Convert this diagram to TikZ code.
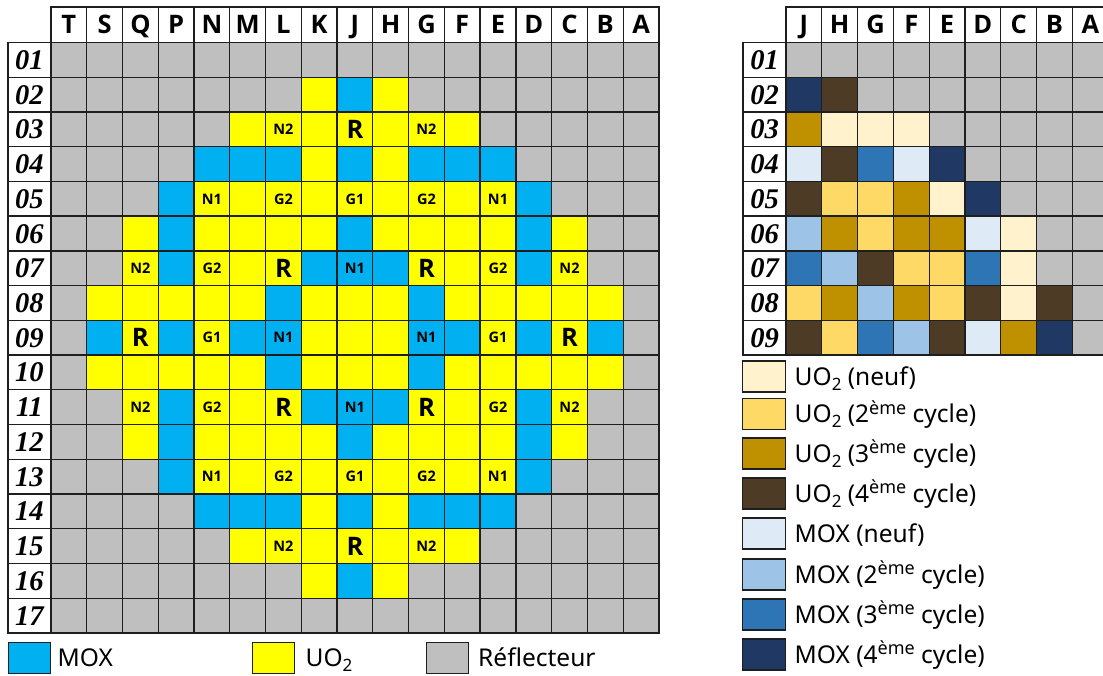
\documentclass[tikz,border=0pt]{standalone}
\usepackage{fontspec}
\setmainfont{Noto Sans}
\newfontfamily\rowfont{Liberation Serif}
\newfontfamily\headfont{Open Sans}
\definecolor{colg}{HTML}{BFBFBF}
\definecolor{coly}{HTML}{FFFF00}
\definecolor{colb}{HTML}{00B0F0}
\definecolor{cola}{HTML}{FFF2CC}
\definecolor{colc}{HTML}{FFD966}
\definecolor{cold}{HTML}{BF9000}
\definecolor{cole}{HTML}{4E3B25}
\definecolor{colm}{HTML}{DEEAF6}
\definecolor{coln}{HTML}{9DC3E6}
\definecolor{colo}{HTML}{2E75B6}
\definecolor{colp}{HTML}{1F3864}
\definecolor{gridc}{HTML}{1E1E1E}
\tikzset{
  cell/.style={draw=gridc,line width=1.3pt,minimum width=35.76pt,minimum height=34.75pt,inner sep=0pt,outer sep=0pt},
  headcell/.style={cell,fill=white,minimum height=35.5pt,font=\fontsize{25.5}{26}\headfont\bfseries,text height=18.5pt,text depth=0pt},
  rowcell/.style={cell,fill=white,minimum width=43pt,font=\fontsize{28.5}{29}\rowfont\bfseries\itshape,text height=19pt,text depth=0pt},
  smalllab/.style={inner sep=0pt,font=\fontsize{14.5}{15}\headfont\bfseries,text height=10.5pt,text depth=0pt},
  biglab/.style={inner sep=0pt,font=\fontsize{25.5}{26}\headfont\bfseries,text height=18.5pt,text depth=0pt},
  legbox/.style={draw=gridc,line width=1.3pt,minimum width=42.5pt,minimum height=31pt,inner sep=0pt,outer sep=0pt},
  legtxt/.style={inner sep=0pt,anchor=base west,font=\fontsize{24.5}{25}\selectfont}
}
\newcommand{\sbs}[1]{\smash{\raisebox{-5pt}{\fontsize{17}{17}\selectfont #1}}}
\newcommand{\sps}[1]{\raisebox{8.5pt}{\fontsize{18}{18}\selectfont #1}}
\begin{document}
\begin{tikzpicture}[x=1pt,y=-1pt]
\clip (0,0) rectangle (1103,675);
% left header
\foreach \t [count=\i] in {T,S,Q,P,N,M,L,K,J,H,G,F,E,D,C,B,A}
  \node[headcell,minimum width=35.76pt] (lh\i) at ({51+35.76*(\i-0.5)},24.7) {\t};
% left row labels
\foreach \t [count=\r] in {01,02,03,04,05,06,07,08,09,10,11,12,13,14,15,16,17}
  \node[rowcell] (lr\r) at (29.5,{42.5+34.73*(\r-0.5)}) {\t};
% left cells
\foreach \rw [count=\r] in {
 {g,g,g,g,g,g,g,g,g,g,g,g,g,g,g,g,g},
 {g,g,g,g,g,g,g,y,b,y,g,g,g,g,g,g,g},
 {g,g,g,g,g,y,y,y,y,y,y,y,g,g,g,g,g},
 {g,g,g,g,b,b,b,y,b,y,b,b,b,g,g,g,g},
 {g,g,g,b,y,y,y,y,y,y,y,y,y,b,g,g,g},
 {g,g,y,b,y,y,y,y,b,y,y,y,y,b,y,g,g},
 {g,g,y,b,y,y,y,b,b,b,y,y,y,b,y,g,g},
 {g,y,y,y,y,y,b,y,y,y,b,y,y,y,y,y,g},
 {g,b,y,b,y,b,b,y,y,y,b,b,y,b,y,b,g},
 {g,y,y,y,y,y,b,y,y,y,b,y,y,y,y,y,g},
 {g,g,y,b,y,y,y,b,b,b,y,y,y,b,y,g,g},
 {g,g,y,b,y,y,y,y,b,y,y,y,y,b,y,g,g},
 {g,g,g,b,y,y,y,y,y,y,y,y,y,b,g,g,g},
 {g,g,g,g,b,b,b,y,b,y,b,b,b,g,g,g,g},
 {g,g,g,g,g,y,y,y,y,y,y,y,g,g,g,g,g},
 {g,g,g,g,g,g,g,y,b,y,g,g,g,g,g,g,g},
 {g,g,g,g,g,g,g,g,g,g,g,g,g,g,g,g,g}}
 { \foreach \c [count=\i] in \rw
   \node[cell,fill=col\c] (L\r-\i) at ({51+35.76*(\i-0.5)},{42.5+34.73*(\r-0.5)}) {}; }
% small labels
\foreach \r/\i/\t in {3/7/N2,3/11/N2,5/5/N1,5/7/G2,5/9/G1,5/11/G2,5/13/N1,
  7/3/N2,7/5/G2,7/9/N1,7/13/G2,7/15/N2,
  9/5/G1,9/7/N1,9/11/N1,9/13/G1,
  11/3/N2,11/5/G2,11/9/N1,11/13/G2,11/15/N2,
  13/5/N1,13/7/G2,13/9/G1,13/11/G2,13/13/N1,15/7/N2,15/11/N2}
  \node[smalllab] (t\r-\i) at (L\r-\i) {\t};
% R labels
\foreach \r/\i in {3/9,7/7,7/11,9/3,9/15,11/7,11/11,15/9}
  \node[biglab] (t\r-\i) at (L\r-\i) {R};
% left legend
\node[legbox,fill=colb] (k1) at (29.5,658) {};
\node[legbox,fill=coly] (k2) at (273.5,658) {};
\node[legbox,fill=colg] (k3) at (447.5,658) {};
\node[legtxt] (k1t) at (57.5,666.5) {MOX};
\node[legtxt] (k2t) at (305.5,666.5) {UO\sbs{2}};
\node[legtxt] (k3t) at (478,666.5) {Réflecteur};
% right header
\foreach \t [count=\i] in {J,H,G,F,E,D,C,B,A}
  \node[headcell] (rh\i) at ({786+35.8*(\i-0.5)},24.7) {\t};
% right row labels
\foreach \t [count=\r] in {01,02,03,04,05,06,07,08,09}
  \node[rowcell] (rr\r) at (764.5,{42.5+34.73*(\r-0.5)}) {\t};
% right cells
\foreach \rw [count=\r] in {
 {g,g,g,g,g,g,g,g,g},
 {p,e,g,g,g,g,g,g,g},
 {d,a,a,a,g,g,g,g,g},
 {m,e,o,m,p,g,g,g,g},
 {e,c,c,d,a,p,g,g,g},
 {n,d,c,d,d,m,a,g,g},
 {o,n,e,c,c,o,a,g,g},
 {c,d,n,d,c,e,a,e,g},
 {e,c,o,n,e,m,d,p,g}}
 { \foreach \c [count=\i] in \rw
   \node[cell,fill=col\c] (R\r-\i) at ({786+35.8*(\i-0.5)},{42.5+34.73*(\r-0.5)}) {}; }
% right legend
\foreach \c/\y/\t in {
  a/376.5/{UO\sbs{2} (neuf)},
  c/414/{UO\sbs{2} (2\sps{ème} cycle)},
  d/453.5/{UO\sbs{2} (3\sps{ème} cycle)},
  e/493.5/{UO\sbs{2} (4\sps{ème} cycle)},
  m/533.5/{MOX (neuf)},
  n/574.5/{MOX (2\sps{ème} cycle)},
  o/614.5/{MOX (3\sps{ème} cycle)},
  p/654.5/{MOX (4\sps{ème} cycle)}}
{
  \node[legbox,fill=col\c] (q\c) at (764,\y) {};
  \node[legtxt] (q\c t) at (794.5,{\y+8.5}) {\t};
}
\end{tikzpicture}
\end{document}
